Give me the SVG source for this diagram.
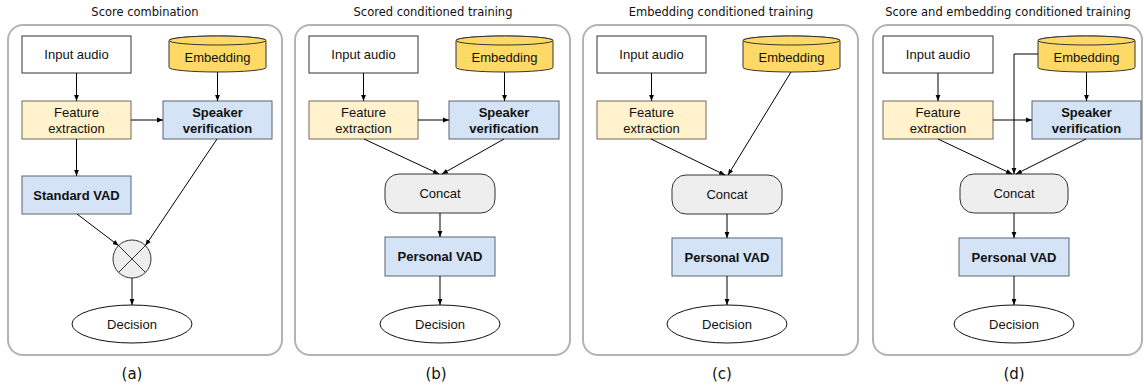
<svg xmlns="http://www.w3.org/2000/svg" width="1144" height="389" viewBox="0 0 1144 389">
<defs>
<marker id="ah" viewBox="0 0 10 10" refX="10" refY="5" markerWidth="6" markerHeight="6" orient="auto" markerUnits="userSpaceOnUse">
<path d="M0,1 L10,5 L0,9 Z" fill="#000"/>
</marker>
<style>
.panel{fill:#fff;stroke:#b3b3b3;stroke-width:2}
.title{font-family:"DejaVu Sans",sans-serif;font-size:11.5px;fill:#111;text-anchor:middle}
.lab{font-family:"DejaVu Sans",sans-serif;font-size:15px;fill:#111;text-anchor:middle}
.t{font-family:"Liberation Sans",Arial,sans-serif;font-size:13px;fill:#111;text-anchor:middle}
.tb{font-family:"Liberation Sans",Arial,sans-serif;font-size:13px;font-weight:bold;fill:#111;text-anchor:middle}
.in{fill:#fff;stroke:#333;stroke-width:1}
.fe{fill:#fff2cc;stroke:#6f6a58;stroke-width:1}
.bl{fill:#d4e3f5;stroke:#5a6470;stroke-width:1}
.cyl{fill:#ffd966;stroke:#333;stroke-width:1}
.gr{fill:#eeeeee;stroke:#333;stroke-width:1}
.dec{fill:#fff;stroke:#111;stroke-width:1}
.c line,.c path{stroke:#000;stroke-width:1;fill:none;marker-end:url(#ah)}
</style>
</defs>
<rect width="1144" height="389" fill="#fff"/>

<g id="panel-a">
<rect class="panel" x="8" y="25" width="274" height="330" rx="15"/>
<text class="title" x="145" y="16">Score combination</text>
<text class="lab" x="132" y="379">(a)</text>
</g>
<g id="panel-b">
<rect class="panel" x="295" y="25" width="275" height="330" rx="15"/>
<text class="title" x="433" y="16">Scored conditioned training</text>
<text class="lab" x="436" y="379">(b)</text>
</g>
<g id="panel-c">
<rect class="panel" x="583" y="25" width="275" height="330" rx="15"/>
<text class="title" x="721" y="16">Embedding conditioned training</text>
<text class="lab" x="722" y="379">(c)</text>
</g>
<g id="panel-d">
<rect class="panel" x="873" y="25" width="269" height="330" rx="15"/>
<text class="title" x="1008" y="16">Score and embedding conditioned training</text>
<text class="lab" x="1014" y="379">(d)</text>
</g>

<!-- Panel a nodes -->
<g id="a-input"><rect class="in" x="22" y="36" width="109" height="37"/><text class="t" x="76.5" y="59">Input audio</text></g>
<g id="a-emb"><path class="cyl" d="M169,40.5 V67.5 A48.5,4.5 0 0 0 266,67.5 V40.5 A48.5,4.5 0 0 0 169,40.5 Z"/><ellipse class="cyl" cx="217.5" cy="40.5" rx="48.5" ry="4.5"/><text class="t" x="217.5" y="62">Embedding</text></g>
<g id="a-feat"><rect class="fe" x="22" y="101" width="109" height="38"/><text class="t" x="76.5" y="117">Feature</text><text class="t" x="76.5" y="132.5">extraction</text></g>
<g id="a-sv"><rect class="bl" x="163" y="101" width="109" height="38"/><text class="tb" x="217.5" y="117">Speaker</text><text class="tb" x="217.5" y="132.5">verification</text></g>
<g id="a-vad"><rect class="bl" x="22" y="176" width="109" height="38"/><text class="tb" x="76.5" y="199.5">Standard VAD</text></g>
<g id="a-comb"><circle class="gr" cx="132" cy="259" r="19"/><line x1="118.6" y1="245.6" x2="145.4" y2="272.4" stroke="#333"/><line x1="145.4" y1="245.6" x2="118.6" y2="272.4" stroke="#333"/></g>
<g id="a-dec"><ellipse class="dec" cx="132" cy="324" rx="60" ry="19"/><text class="t" x="132" y="328.5">Decision</text></g>

<!-- Panel b nodes -->
<g id="b-input"><rect class="in" x="309" y="36" width="109" height="37"/><text class="t" x="363.5" y="59">Input audio</text></g>
<g id="b-emb"><path class="cyl" d="M456,40.5 V67.5 A48.5,4.5 0 0 0 553,67.5 V40.5 A48.5,4.5 0 0 0 456,40.5 Z"/><ellipse class="cyl" cx="504.5" cy="40.5" rx="48.5" ry="4.5"/><text class="t" x="504.5" y="62">Embedding</text></g>
<g id="b-feat"><rect class="fe" x="309" y="101" width="109" height="38"/><text class="t" x="363.5" y="117">Feature</text><text class="t" x="363.5" y="132.5">extraction</text></g>
<g id="b-sv"><rect class="bl" x="449" y="101" width="110" height="38"/><text class="tb" x="504" y="117">Speaker</text><text class="tb" x="504" y="132.5">verification</text></g>
<g id="b-concat"><rect class="gr" x="385" y="174" width="110" height="39" rx="14"/><text class="t" x="440" y="198">Concat</text></g>
<g id="b-pvad"><rect class="bl" x="385" y="237" width="110" height="39"/><text class="tb" x="440" y="261">Personal VAD</text></g>
<g id="b-dec"><ellipse class="dec" cx="440" cy="324" rx="60" ry="19"/><text class="t" x="440" y="328.5">Decision</text></g>

<!-- Panel c nodes -->
<g id="c-input"><rect class="in" x="597" y="36" width="109" height="37"/><text class="t" x="651.5" y="59">Input audio</text></g>
<g id="c-emb"><path class="cyl" d="M743,40.5 V67.5 A48.5,4.5 0 0 0 840,67.5 V40.5 A48.5,4.5 0 0 0 743,40.5 Z"/><ellipse class="cyl" cx="791.5" cy="40.5" rx="48.5" ry="4.5"/><text class="t" x="791.5" y="62">Embedding</text></g>
<g id="c-feat"><rect class="fe" x="597" y="101" width="109" height="38"/><text class="t" x="651.5" y="117">Feature</text><text class="t" x="651.5" y="132.5">extraction</text></g>
<g id="c-concat"><rect class="gr" x="672" y="175" width="110" height="39" rx="14"/><text class="t" x="727" y="199">Concat</text></g>
<g id="c-pvad"><rect class="bl" x="672" y="238" width="110" height="38"/><text class="tb" x="727" y="261.5">Personal VAD</text></g>
<g id="c-dec"><ellipse class="dec" cx="727" cy="324" rx="60" ry="19"/><text class="t" x="727" y="328.5">Decision</text></g>

<!-- Panel d nodes -->
<g id="d-input"><rect class="in" x="883" y="36" width="110" height="37"/><text class="t" x="938" y="59">Input audio</text></g>
<g id="d-emb"><path class="cyl" d="M1038,40.5 V67.5 A48.5,4.5 0 0 0 1135,67.5 V40.5 A48.5,4.5 0 0 0 1038,40.5 Z"/><ellipse class="cyl" cx="1086.5" cy="40.5" rx="48.5" ry="4.5"/><text class="t" x="1086.5" y="62">Embedding</text></g>
<g id="d-feat"><rect class="fe" x="883" y="101" width="110" height="38"/><text class="t" x="938" y="117">Feature</text><text class="t" x="938" y="132.5">extraction</text></g>
<g id="d-sv"><rect class="bl" x="1032" y="101" width="109" height="38"/><text class="tb" x="1086.5" y="117">Speaker</text><text class="tb" x="1086.5" y="132.5">verification</text></g>
<g id="d-concat"><rect class="gr" x="960" y="174" width="108" height="39" rx="14"/><text class="t" x="1014" y="198">Concat</text></g>
<g id="d-pvad"><rect class="bl" x="959" y="238" width="110" height="38"/><text class="tb" x="1014" y="261.5">Personal VAD</text></g>
<g id="d-dec"><ellipse class="dec" cx="1014" cy="324" rx="60" ry="19"/><text class="t" x="1014" y="328.5">Decision</text></g>

<g id="connectors" class="c">
<line x1="76.5" y1="73" x2="76.5" y2="101"/>
<line x1="217.5" y1="72" x2="217.5" y2="101"/>
<line x1="131" y1="120" x2="163" y2="120"/>
<line x1="76.5" y1="139" x2="76.5" y2="176"/>
<line x1="77" y1="214" x2="118.6" y2="245.6"/>
<line x1="217" y1="139" x2="145.4" y2="245.6"/>
<line x1="132" y1="278" x2="132" y2="305"/>

<line x1="363.5" y1="73" x2="363.5" y2="101"/>
<line x1="504.5" y1="72" x2="504.5" y2="101"/>
<line x1="418" y1="120" x2="449" y2="120"/>
<line x1="364" y1="139" x2="439" y2="174"/>
<line x1="504" y1="139" x2="442" y2="174"/>
<line x1="440" y1="213" x2="440" y2="237"/>
<line x1="440" y1="276" x2="440" y2="305"/>

<line x1="651.5" y1="73" x2="651.5" y2="101"/>
<line x1="651" y1="139" x2="725" y2="175"/>
<line x1="791" y1="72" x2="728" y2="175"/>
<line x1="727" y1="214" x2="727" y2="238"/>
<line x1="727" y1="276" x2="727" y2="305"/>

<line x1="938" y1="73" x2="938" y2="101"/>
<line x1="1086.5" y1="72" x2="1086.5" y2="101"/>
<line x1="993" y1="120" x2="1032" y2="120"/>
<path d="M1038,54 H1014 V174"/>
<line x1="938" y1="139" x2="1012" y2="174"/>
<line x1="1086" y1="139" x2="1016" y2="174"/>
<line x1="1014" y1="213" x2="1014" y2="238"/>
<line x1="1014" y1="276" x2="1014" y2="305"/>
</g>
</svg>
